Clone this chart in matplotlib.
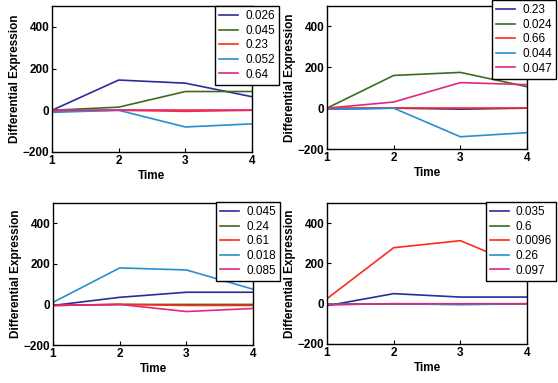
import matplotlib
matplotlib.use("Agg")
import matplotlib.pyplot as plt

plt.rcParams['font.family'] = ['Liberation Sans', 'DejaVu Sans']

time = [1, 2, 3, 4]

# Panel 1 (top-left)
p1_labels = ["0.026", "0.045", "0.23", "0.052", "0.64"]
p1_values = [
    [0, 145, 130, 65],
    [0, 15, 90, 90],
    [-5, 0, -5, 0],
    [-10, 0, -80, -65],
    [0, 0, 0, 0],
]
# Panel 2 (top-right)
p2_labels = ["0.23", "0.024", "0.66", "0.044", "0.047"]
p2_values = [
    [-5, 0, -5, 0],
    [0, 160, 175, 105],
    [0, 0, 0, 0],
    [-5, 0, -140, -120],
    [0, 30, 125, 115],
]
# Panel 3 (bottom-left)
p3_labels = ["0.045", "0.24", "0.61", "0.018", "0.085"]
p3_values = [
    [-5, 35, 60, 60],
    [-5, 0, 0, 0],
    [-5, 0, -5, -5],
    [10, 180, 170, 75],
    [-5, 0, -35, -20],
]
# Panel 4 (bottom-right)
p4_labels = ["0.035", "0.6", "0.0096", "0.26", "0.097"]
p4_values = [
    [-10, 50, 33, 33],
    [0, 0, 0, 0],
    [25, 278, 313, 175],
    [-5, 0, -5, 0],
    [-5, 0, 0, 0],
]

colors = ["#2b2b9c", "#3d6b1e", "#ff2a1a", "#2a8fd0", "#e0287f"]
yticks = [-200, 0, 200, 400]
xticks = [1, 2, 3, 4]

W, H = 558, 383
fig = plt.figure(figsize=(W / 100, H / 100), dpi=100)

panels = [
    (p1_labels, p1_values, (52, 6, 252, 152), (217, 6, 279, 82)),
    (p2_labels, p2_values, (327, 6, 527, 149), (492, 0, 556, 80)),
    (p3_labels, p3_values, (53, 203, 253, 345), (217, 202, 280, 277)),
    (p4_labels, p4_values, (327, 203, 527, 344), (492, 202, 556, 276)),
]

for labels, values, (x0, y0, x1, y1), (lx0, ly0, lx1, ly1) in panels:
    ax = fig.add_axes([x0 / W, 1 - y1 / H, (x1 - x0) / W, (y1 - y0) / H])
    for lab, vals, c in zip(labels, values, colors):
        ax.plot(time, vals, color=c, lw=1.2, label=lab)
    ax.set_xlim(1, 4)
    ax.set_ylim(-200, 500)
    ax.set_xticks(xticks)
    ax.set_yticks(yticks)
    ax.tick_params(direction='in', length=3, labelsize=8.5, width=0.8)
    for t in ax.get_xticklabels() + ax.get_yticklabels():
        t.set_fontweight('bold')
    ax.tick_params(axis='x', pad=2)
    ax.tick_params(axis='y', pad=2)
    for s in ax.spines.values():
        s.set_linewidth(1.0)
    ax.set_xlabel("Time", fontsize=8.5, fontweight='bold', labelpad=2)
    ax.set_ylabel("Differential Expression", fontsize=8.5, fontweight='bold', labelpad=1)
    leg = ax.legend(loc='upper right',
                    bbox_to_anchor=(lx1 / W, 1 - ly0 / H),
                    bbox_transform=fig.transFigure,
                    fontsize=8.5, frameon=True, fancybox=False,
                    edgecolor='black', framealpha=1,
                    handlelength=1.6, handletextpad=0.6,
                    labelspacing=0.22, borderpad=0.35, borderaxespad=0)
    leg.get_frame().set_linewidth(1.0)

fig.savefig("out.png", dpi=100)
